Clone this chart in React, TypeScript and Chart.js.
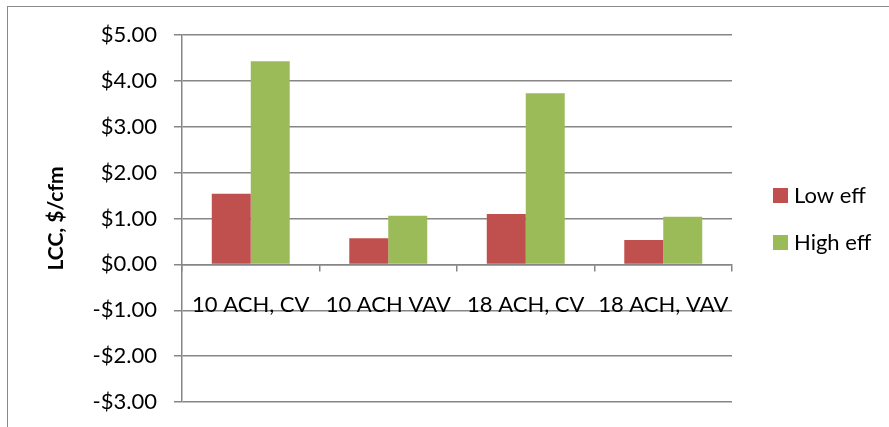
import React, { useEffect, useRef } from "react";
import { Chart, registerables } from "chart.js";

Chart.register(...registerables);

const categories = ["10 ACH, CV", "10 ACH VAV", "18 ACH, CV", "18 ACH, VAV"];
const lowEff = [1.54, 0.57, 1.1, 0.53];
const highEff = [4.43, 1.06, 3.73, 1.04];
const seriesNames = ["Low eff", "High eff"];
const seriesColors = ["#C0504D", "#9BBB59"];
const yTitle = "LCC, $/cfm";

const FONT = "Lato";
const GRID = "#868686";

const legendPlugin = {
  id: "sideLegend",
  afterDraw(chart: any) {
    const ctx = chart.ctx;
    const area = chart.chartArea;
    const x0 = area.right + 41;
    const yc = 219;
    const gap = 47;
    ctx.save();
    ctx.font = `22px ${FONT}`;
    ctx.textBaseline = "middle";
    ctx.textAlign = "left";
    chart.data.datasets.forEach((ds: any, i: number) => {
      const y = yc + (i - 0.5) * gap;
      ctx.fillStyle = ds.backgroundColor;
      ctx.fillRect(x0, y - 7.5, 15, 15);
      ctx.fillStyle = "#000";
      ctx.fillText(ds.label, x0 + 21, y);
    });
    ctx.restore();
  },
};

export default function App() {
  const ref = useRef<HTMLCanvasElement>(null);
  useEffect(() => {
    const chart = new Chart(ref.current!, {
      type: "bar",
      data: {
        labels: categories,
        datasets: [
          { label: seriesNames[0], data: lowEff, backgroundColor: seriesColors[0], borderWidth: 0 },
          { label: seriesNames[1], data: highEff, backgroundColor: seriesColors[1], borderWidth: 0 },
        ],
      },
      options: {
        animation: false,
        responsive: true,
        maintainAspectRatio: false,
        layout: { padding: { left: 0, top: 35, right: 157, bottom: 25 } },
        datasets: { bar: { categoryPercentage: 0.567, barPercentage: 1.0 } },
        plugins: { legend: { display: false }, tooltip: { enabled: false } },
        scales: {
          x: {
            position: { y: 0 } as any,
            afterFit(scale: any) {
              scale.paddingTop = 0;
              scale.paddingBottom = 0;
            },
            grid: {
              display: true,
              drawOnChartArea: false,
              drawTicks: true,
              tickLength: 6,
              color: GRID,
              lineWidth: 1.5,
              offset: true,
            },
            border: { display: true, color: GRID, width: 1.5 },
            ticks: {
              color: "#000",
              padding: 21,
              font: { family: FONT, size: 22 },
              maxRotation: 0,
              autoSkip: false,
            },
          },
          y: {
            min: -3,
            max: 5,
            afterFit(scale: any) {
              scale.width = 182;
              scale.paddingTop = 0;
              scale.paddingBottom = 0;
            },
            grid: { color: GRID, lineWidth: 1.5, tickLength: 8, drawTicks: true },
            border: { display: true, color: GRID, width: 1.5 },
            ticks: {
              stepSize: 1,
              color: "#000",
              padding: 17,
              font: { family: FONT, size: 22 },
              callback: (v: any) => (Number(v) < 0 ? "-" : "") + "$" + Math.abs(Number(v)).toFixed(2),
            },
            title: {
              display: true,
              text: yTitle,
              color: "#000",
              font: { family: FONT, size: 21, weight: "bold" },
              padding: { top: 44, bottom: 0 },
            },
          },
        },
      },
      plugins: [legendPlugin],
    });
    return () => chart.destroy();
  }, []);

  return (
    <div style={{ position: "fixed", left: 0, top: 0, width: 889, height: 427, background: "#fff" }}>
      <div
        style={{
          position: "absolute",
          left: 7,
          top: 6,
          width: 900,
          height: 500,
          borderLeft: "1.5px solid #8a8a8a",
          borderTop: "1.5px solid #8a8a8a",
          boxSizing: "border-box",
        }}
      />
      <canvas ref={ref} style={{ position: "absolute", left: 0, top: 0 }} />
    </div>
  );
}
